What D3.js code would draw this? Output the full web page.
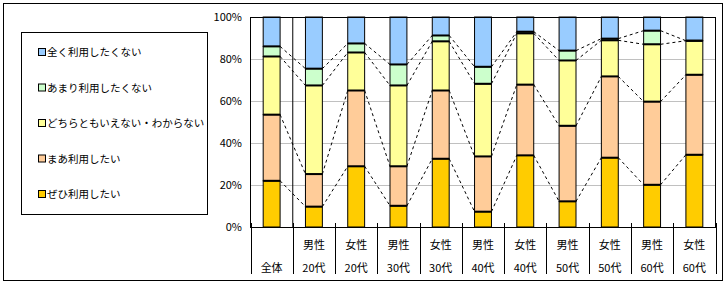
<!DOCTYPE html>
<html>
<head>
<meta charset="utf-8">
<script src="https://cdn.jsdelivr.net/npm/d3@7"></script>
<style>
  body { margin: 0; background: #fff; }
  svg text { font-family: "Noto Sans CJK JP", "DejaVu Sans", sans-serif; fill: #000; }
</style>
</head>
<body>
<div id="chart"></div>
<script>
// category labels (two rows under the axis)
var genderLabels = ["", "男性", "女性", "男性", "女性", "男性", "女性", "男性", "女性", "男性", "女性"];
var ageLabels = ["全体", "20代", "20代", "30代", "30代", "40代", "40代", "50代", "50代", "60代", "60代"];

// series, bottom to top (percent)
var seriesNames = ["ぜひ利用したい", "まあ利用したい", "どちらともいえない・わからない", "あまり利用したくない", "全く利用したくない"];
var zehi    = [22.0, 9.7, 28.9, 10.1, 32.5, 7.3, 34.1, 12.2, 33.0, 20.1, 34.4];
var maa     = [31.5, 15.5, 36.1, 18.8, 32.5, 26.3, 33.7, 36.0, 38.7, 39.6, 38.1];
var dochira = [27.7, 42.2, 18.1, 38.5, 23.4, 34.6, 24.4, 31.1, 17.2, 27.3, 16.2];
var amari   = [4.8, 8.0, 4.3, 10.0, 2.8, 8.1, 0.8, 4.7, 0.8, 6.5, 0.0];
var mattaku = [14.0, 24.6, 12.6, 22.6, 8.8, 23.7, 7.0, 16.0, 10.3, 6.5, 11.3];

var yTicks = [0, 20, 40, 60, 80, 100];
var colors = ["#FFCC00", "#FFCC99", "#FFFF99", "#CCFFCC", "#99CCFF"];

var W = 726, H = 286;
var plot = { left: 250.5, right: 715.5, top: 17, bottom: 227 };

var svg = d3.select("#chart").append("svg")
    .attr("width", W)
    .attr("height", H);

// outer frame
svg.append("rect")
    .attr("x", 3.5).attr("y", 3.5)
    .attr("width", 719).attr("height", 277)
    .attr("fill", "#fff")
    .attr("stroke", "#000")
    .attr("stroke-width", 1);

var idx = d3.range(ageLabels.length);
var x = d3.scaleBand()
    .domain(idx)
    .range([plot.left, plot.right])
    .paddingInner(0.6)
    .paddingOuter(0.3);
var step = (plot.right - plot.left) / idx.length;
var y = d3.scaleLinear().domain([0, 100]).range([plot.bottom, plot.top]);

// gridlines
svg.append("g")
    .selectAll("line")
    .data(yTicks.filter(function (d) { return d > 0 && d < 100; }))
    .enter().append("line")
    .attr("x1", plot.left).attr("x2", plot.right)
    .attr("y1", function (d) { return Math.round(y(d)) + 0.5; })
    .attr("y2", function (d) { return Math.round(y(d)) + 0.5; })
    .attr("stroke", "#c0c0c0");

// y axis labels
svg.append("g")
    .selectAll("text")
    .data(yTicks)
    .enter().append("text")
    .attr("x", 242)
    .attr("y", function (d) { return y(d) + 4; })
    .attr("text-anchor", "end")
    .style("font-size", "11px")
    .text(function (d) { return d + "%"; });

// stack the data
var rows = idx.map(function (i) {
    return { i: i, s0: zehi[i], s1: maa[i], s2: dochira[i], s3: amari[i], s4: mattaku[i] };
});
var keys = ["s0", "s1", "s2", "s3", "s4"];
var stacked = d3.stack().keys(keys)(rows);

// series lines (dashed, between neighbouring bars)
var bw = x.bandwidth();
var seriesLines = svg.append("g");
stacked.slice(0, 4).forEach(function (layer) {
    for (var i = 0; i < layer.length - 1; i++) {
        seriesLines.append("line")
            .attr("x1", x(i) + bw)
            .attr("y1", y(layer[i][1]))
            .attr("x2", x(i + 1))
            .attr("y2", y(layer[i + 1][1]))
            .attr("stroke", "#000")
            .attr("stroke-width", 1)
            .attr("stroke-dasharray", "3,3");
    }
});

// bars
var bars = svg.append("g");
stacked.forEach(function (layer, k) {
    bars.append("g")
        .selectAll("rect")
        .data(layer)
        .enter().append("rect")
        .attr("x", function (d, i) { return x(i); })
        .attr("y", function (d) { return y(d[1]); })
        .attr("width", bw)
        .attr("height", function (d) { return y(d[0]) - y(d[1]); })
        .attr("fill", colors[k])
        .attr("stroke", "#000")
        .attr("stroke-width", 1);
});
// heavier segment tops
stacked.slice(0, 4).forEach(function (layer) {
    bars.append("g")
        .selectAll("line")
        .data(layer)
        .enter().append("line")
        .attr("x1", function (d, i) { return x(i); })
        .attr("x2", function (d, i) { return x(i) + bw; })
        .attr("y1", function (d) { return y(d[1]); })
        .attr("y2", function (d) { return y(d[1]); })
        .attr("stroke", "#000")
        .attr("stroke-width", 2);
});

// plot border
svg.append("rect")
    .attr("x", plot.left).attr("y", plot.top + 0.5)
    .attr("width", plot.right - plot.left)
    .attr("height", plot.bottom - plot.top)
    .attr("fill", "none")
    .attr("stroke", "#000")
    .attr("stroke-width", 1);

// separator after 全体 runs through the plot
svg.append("line")
    .attr("x1", plot.left + step).attr("x2", plot.left + step)
    .attr("y1", plot.top).attr("y2", plot.bottom)
    .attr("stroke", "#000");

// category separators below the axis
svg.append("g")
    .selectAll("line")
    .data(d3.range(idx.length + 1))
    .enter().append("line")
    .attr("x1", function (d) { return Math.round(plot.left + d * step) + 0.5; })
    .attr("x2", function (d) { return Math.round(plot.left + d * step) + 0.5; })
    .attr("y1", plot.bottom - 4)
    .attr("y2", 274)
    .attr("stroke", "#000");

// category labels
var labels = svg.append("g").style("font-size", "11px").attr("text-anchor", "middle");
labels.selectAll("text.g")
    .data(genderLabels)
    .enter().append("text")
    .attr("class", "g")
    .attr("x", function (d, i) { return x(i) + bw / 2; })
    .attr("y", 249)
    .text(function (d) { return d; });
labels.selectAll("text.a")
    .data(ageLabels)
    .enter().append("text")
    .attr("class", "a")
    .attr("x", function (d, i) { return x(i) + bw / 2; })
    .attr("y", 272)
    .text(function (d) { return d; });

// legend
var legend = svg.append("g");
legend.append("rect")
    .attr("x", 21.5).attr("y", 32.5)
    .attr("width", 186).attr("height", 182)
    .attr("fill", "#fff")
    .attr("stroke", "#000");
var legendOrder = [4, 3, 2, 1, 0];
var li = legend.selectAll("g.item")
    .data(legendOrder)
    .enter().append("g")
    .attr("class", "item")
    .attr("transform", function (d, j) { return "translate(0," + (52 + j * 35.5) + ")"; });
li.append("rect")
    .attr("x", 38.5).attr("y", -3.5)
    .attr("width", 7).attr("height", 7)
    .attr("fill", function (d) { return colors[d]; })
    .attr("stroke", "#000");
li.append("text")
    .attr("x", 47)
    .attr("y", 4)
    .style("font-size", "10.5px")
    .text(function (d) { return seriesNames[d]; });
</script>
</body>
</html>
